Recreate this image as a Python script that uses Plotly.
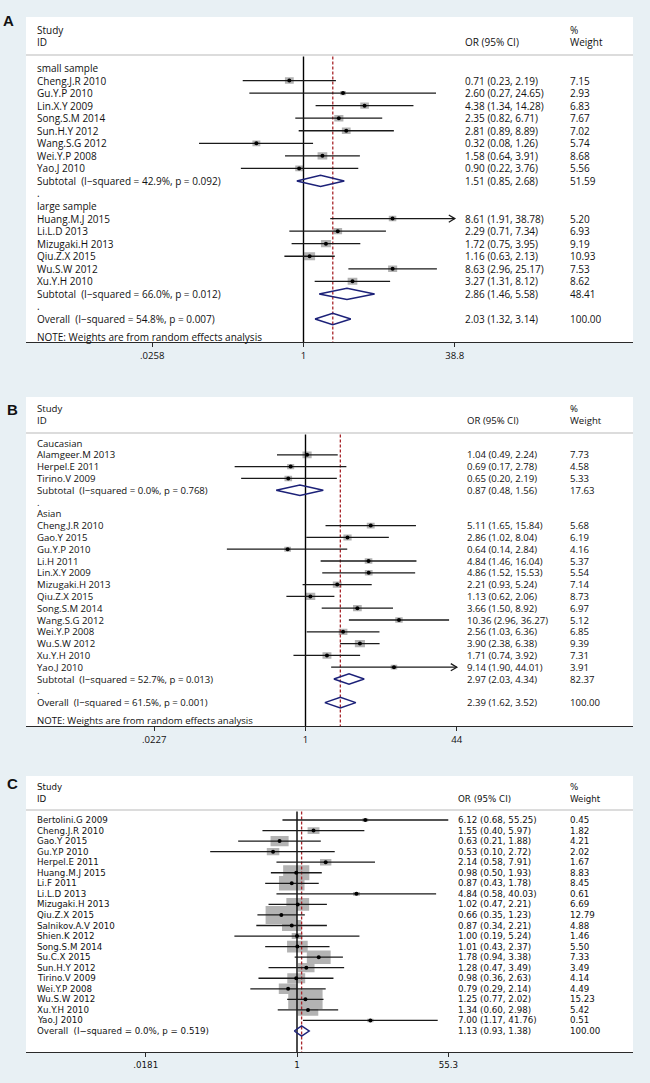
import numpy as np
import plotly.graph_objects as go

# ---------------- data: panel A ----------------
a_small_names = ["Cheng.J.R 2010", "Gu.Y.P 2010", "Lin.X.Y 2009", "Song.S.M 2014",
                 "Sun.H.Y 2012", "Wang.S.G 2012", "Wei.Y.P 2008", "Yao.J 2010"]
a_small_or = [0.71, 2.60, 4.38, 2.35, 2.81, 0.32, 1.58, 0.90]
a_small_lo = [0.23, 0.27, 1.34, 0.82, 0.89, 0.08, 0.64, 0.22]
a_small_hi = [2.19, 24.65, 14.28, 6.71, 8.89, 1.26, 3.91, 3.76]
a_small_w = [7.15, 2.93, 6.83, 7.67, 7.02, 5.74, 8.68, 5.56]

a_large_names = ["Huang.M.J 2015", "Li.L.D 2013", "Mizugaki.H 2013", "Qiu.Z.X 2015",
                 "Wu.S.W 2012", "Xu.Y.H 2010"]
a_large_or = [8.61, 2.29, 1.72, 1.16, 8.63, 3.27]
a_large_lo = [1.91, 0.71, 0.75, 0.63, 2.96, 1.31]
a_large_hi = [38.78, 7.34, 3.95, 2.13, 25.17, 8.12]
a_large_w = [5.20, 6.93, 9.19, 10.93, 7.53, 8.62]

a_groups = ["small sample", "large sample"]
a_sub_labels = ["Subtotal  (I\u2212squared = 42.9%, p = 0.092)",
                "Subtotal  (I\u2212squared = 66.0%, p = 0.012)"]
a_sub_or = [1.51, 2.86]
a_sub_lo = [0.85, 1.46]
a_sub_hi = [2.68, 5.58]
a_sub_w = [51.59, 48.41]
a_overall = ["Overall  (I\u2212squared = 54.8%, p = 0.007)", 2.03, 1.32, 3.14, 100.00]
a_ticks = [0.0258, 1, 38.8]
a_ticktext = [".0258", "1", "38.8"]
a_arrow = ["Huang.M.J 2015"]

# ---------------- data: panel B ----------------
b_cau_names = ["Alamgeer.M 2013", "Herpel.E 2011", "Tirino.V 2009"]
b_cau_or = [1.04, 0.69, 0.65]
b_cau_lo = [0.49, 0.17, 0.20]
b_cau_hi = [2.24, 2.78, 2.19]
b_cau_w = [7.73, 4.58, 5.33]

b_asi_names = ["Cheng.J.R 2010", "Gao.Y 2015", "Gu.Y.P 2010", "Li.H 2011", "Lin.X.Y 2009",
               "Mizugaki.H 2013", "Qiu.Z.X 2015", "Song.S.M 2014", "Wang.S.G 2012",
               "Wei.Y.P 2008", "Wu.S.W 2012", "Xu.Y.H 2010", "Yao.J 2010"]
b_asi_or = [5.11, 2.86, 0.64, 4.84, 4.86, 2.21, 1.13, 3.66, 10.36, 2.56, 3.90, 1.71, 9.14]
b_asi_lo = [1.65, 1.02, 0.14, 1.46, 1.52, 0.93, 0.62, 1.50, 2.96, 1.03, 2.38, 0.74, 1.90]
b_asi_hi = [15.84, 8.04, 2.84, 16.04, 15.53, 5.24, 2.06, 8.92, 36.27, 6.36, 6.38, 3.92, 44.01]
b_asi_w = [5.68, 6.19, 4.16, 5.37, 5.54, 7.14, 8.73, 6.97, 5.12, 6.85, 9.39, 7.31, 3.91]

b_groups = ["Caucasian", "Asian"]
b_sub_labels = ["Subtotal  (I\u2212squared = 0.0%, p = 0.768)",
                "Subtotal  (I\u2212squared = 52.7%, p = 0.013)"]
b_sub_or = [0.87, 2.97]
b_sub_lo = [0.48, 2.03]
b_sub_hi = [1.56, 4.34]
b_sub_w = [17.63, 82.37]
b_overall = ["Overall  (I\u2212squared = 61.5%, p = 0.001)", 2.39, 1.62, 3.52, 100.00]
b_ticks = [0.0227, 1, 44]
b_ticktext = [".0227", "1", "44"]
b_arrow = ["Yao.J 2010"]

# ---------------- data: panel C ----------------
c_names = ["Bertolini.G 2009", "Cheng.J.R 2010", "Gao.Y 2015", "Gu.Y.P 2010", "Herpel.E 2011",
           "Huang.M.J 2015", "Li.F 2011", "Li.L.D 2013", "Mizugaki.H 2013", "Qiu.Z.X 2015",
           "Salnikov.A.V 2010", "Shien.K 2012", "Song.S.M 2014", "Su.C.X 2015", "Sun.H.Y 2012",
           "Tirino.V 2009", "Wei.Y.P 2008", "Wu.S.W 2012", "Xu.Y.H 2010", "Yao.J 2010"]
c_or = [6.12, 1.55, 0.63, 0.53, 2.14, 0.98, 0.87, 4.84, 1.02, 0.66,
        0.87, 1.00, 1.01, 1.78, 1.28, 0.98, 0.79, 1.25, 1.34, 7.00]
c_lo = [0.68, 0.40, 0.21, 0.10, 0.58, 0.50, 0.43, 0.58, 0.47, 0.35,
        0.34, 0.19, 0.43, 0.94, 0.47, 0.36, 0.29, 0.77, 0.60, 1.17]
c_hi = [55.25, 5.97, 1.88, 2.72, 7.91, 1.93, 1.78, 40.03, 2.21, 1.23,
        2.21, 5.24, 2.37, 3.38, 3.49, 2.63, 2.14, 2.02, 2.98, 41.76]
c_w = [0.45, 1.82, 4.21, 2.02, 1.67, 8.83, 8.45, 0.61, 6.69, 12.79,
       4.88, 1.46, 5.50, 7.33, 3.49, 4.14, 4.49, 15.23, 5.42, 0.51]
c_overall = ["Overall  (I\u2212squared = 0.0%, p = 0.519)", 1.13, 0.93, 1.38, 100.00]
c_ticks = [0.0181, 1, 55.3]
c_ticktext = [".0181", "1", "55.3"]
c_arrow = []

note_text = "NOTE: Weights are from random effects analysis"


# ---------------- row builders ----------------
def study_rows(names, est, lo, hi, w):
    return [("study", n, e, l, h, ww) for n, e, l, h, ww in zip(names, est, lo, hi, w)]


rows_a = ([("group", a_groups[0], None, None, None, None)]
          + study_rows(a_small_names, a_small_or, a_small_lo, a_small_hi, a_small_w)
          + [("sub", a_sub_labels[0], a_sub_or[0], a_sub_lo[0], a_sub_hi[0], a_sub_w[0]),
             ("blank", ".", None, None, None, None),
             ("group", a_groups[1], None, None, None, None)]
          + study_rows(a_large_names, a_large_or, a_large_lo, a_large_hi, a_large_w)
          + [("sub", a_sub_labels[1], a_sub_or[1], a_sub_lo[1], a_sub_hi[1], a_sub_w[1]),
             ("blank", ".", None, None, None, None),
             ("sub",) + tuple(a_overall)])

rows_b = ([("group", b_groups[0], None, None, None, None)]
          + study_rows(b_cau_names, b_cau_or, b_cau_lo, b_cau_hi, b_cau_w)
          + [("sub", b_sub_labels[0], b_sub_or[0], b_sub_lo[0], b_sub_hi[0], b_sub_w[0]),
             ("blank", ".", None, None, None, None),
             ("group", b_groups[1], None, None, None, None)]
          + study_rows(b_asi_names, b_asi_or, b_asi_lo, b_asi_hi, b_asi_w)
          + [("sub", b_sub_labels[1], b_sub_or[1], b_sub_lo[1], b_sub_hi[1], b_sub_w[1]),
             ("blank", ".", None, None, None, None),
             ("sub",) + tuple(b_overall)])

rows_c = study_rows(c_names, c_or, c_lo, c_hi, c_w) + [("sub",) + tuple(c_overall)]

# ---------------- layout constants (pixels) ----------------
W, H = 650, 1083
BG = "#e8f0f4"
BOX_L, BOX_R = 26, 633
TEXT_X = 35
CI_COLOR = "#1a1a1a"
SQ_COLOR = "#b3b3b3"
DIA_COLOR = "#1c2178"
RED = "#a8262b"

panels = [
    dict(rows=rows_a, overall=a_overall, top=17, axis=342, y0=68, dy=12.55, cx=303.5,
         ticks=a_ticks, ticktext=a_ticktext, study_y=30, id_y=42.5, sep=55, note_y=337,
         orx=463, wx=568, font="Open Sans", fs=10, rw=3.3, rh=2.4, dh=5.6,
         arrows=a_arrow, letter="A", lx=8.5, ly=20),
    dict(rows=rows_b, overall=b_overall, top=397, axis=726, y0=443, dy=11.8, cx=305.5,
         ticks=b_ticks, ticktext=b_ticktext, study_y=408.5, id_y=420.5, sep=433, note_y=720,
         orx=465, wx=568, font="Open Sans", fs=9.6, rw=3.3, rh=2.4, dh=5.3,
         arrows=b_arrow, letter="B", lx=12, ly=410),
    dict(rows=rows_c, overall=c_overall, top=776, axis=1052, y0=820, dy=10.55, cx=297,
         ticks=c_ticks, ticktext=c_ticktext, study_y=787, id_y=798.5, sep=810, note_y=None,
         orx=456, wx=568, font="DejaVu Sans", fs=8.7, rw=8.8, rh=5.0, dh=5.0,
         arrows=c_arrow, letter="C", lx=12, ly=783),
]

fig = go.Figure()
annotations = []
shapes = []
layout_axes = {}

for k, p in enumerate(panels, start=1):
    xname = "x" if k == 1 else f"x{k}"
    yname = "y" if k == 1 else f"y{k}"
    xkey = "xaxis" if k == 1 else f"xaxis{k}"
    ykey = "yaxis" if k == 1 else f"yaxis{k}"

    thi = p["ticks"][-1]
    ppl = 151.3 / np.log10(thi)          # pixels per log10 unit
    xr = [(BOX_L - p["cx"]) / ppl, (BOX_R - p["cx"]) / ppl]
    y0, dy = p["y0"], p["dy"]

    def yval(px, y0=y0, dy=dy):
        return -(px - y0) / dy

    yr = [yval(p["axis"]), yval(p["top"])]

    layout_axes[xkey] = dict(
        type="log", range=xr, domain=[BOX_L / W, BOX_R / W], anchor=yname,
        showline=True, linecolor="#2a2a2a", linewidth=1.2, ticks="outside", ticklen=4,
        tickcolor="#2a2a2a", tickwidth=1.2, tickvals=p["ticks"], ticktext=p["ticktext"],
        tickfont=dict(family=p["font"], size=9.6 if k < 3 else 8.7, color="#111"),
        showgrid=False, zeroline=False, fixedrange=True)
    layout_axes[ykey] = dict(
        range=yr, domain=[1 - p["axis"] / H, 1 - p["top"] / H], anchor=xname,
        visible=False, showgrid=False, zeroline=False, fixedrange=True)

    # white panel box + header separator
    shapes.append(dict(type="rect", xref="paper", yref="paper", x0=BOX_L / W, x1=BOX_R / W,
                       y0=1 - p["axis"] / H, y1=1 - p["top"] / H, fillcolor="white",
                       line=dict(width=0), layer="below"))
    shapes.append(dict(type="line", xref="paper", yref="paper", x0=BOX_L / W, x1=BOX_R / W,
                       y0=1 - p["sep"] / H, y1=1 - p["sep"] / H,
                       line=dict(color="#dcdcdc", width=2), layer="below"))

    tfont = dict(family=p["font"], size=p["fs"], color="#111")

    def add_text(px, py_val, txt):
        annotations.append(dict(x=px / W, xref="paper", y=py_val, yref=yname, text=txt,
                                showarrow=False, xanchor="left", yanchor="middle",
                                font=tfont))

    # header
    add_text(TEXT_X, yval(p["study_y"]), "Study")
    add_text(TEXT_X, yval(p["id_y"]), "ID")
    add_text(p["orx"], yval(p["id_y"]), "OR (95% CI)")
    add_text(p["wx"], yval(p["study_y"]), "%")
    add_text(p["wx"], yval(p["id_y"]), "Weight")
    if p["note_y"] is not None:
        add_text(TEXT_X, yval(p["note_y"]), note_text)

    # panel letter
    annotations.append(dict(x=p["lx"] / W, xref="paper", y=1 - p["ly"] / H, yref="paper",
                            text=f"<b>{p['letter']}</b>", showarrow=False, xanchor="center",
                            yanchor="middle",
                            font=dict(family="Liberation Sans", size=15, color="#111")))

    sq_x, sq_y = [], []
    ci_x, ci_y = [], []
    ar_x, ar_y = [], []
    dot_x, dot_y = [], []
    dia_x, dia_y = [], []
    f_arrow = 10 ** (6 / ppl)
    d_arrow = 3.6 / dy

    for i, (kind, label, est, lo, hi, w) in enumerate(p["rows"]):
        yv = -i
        add_text(TEXT_X, yv, label.replace("  ", "\u00a0\u00a0"))
        if kind in ("study", "sub"):
            add_text(p["orx"], yv, f"{est:.2f} ({lo:.2f}, {hi:.2f})")
            add_text(p["wx"], yv, f"{w:.2f}")
        if kind == "study":
            fx = 10 ** (p["rw"] * np.sqrt(w) / 2 / ppl)
            hh = p["rh"] * np.sqrt(w) / 2 / dy
            sq_x += [est / fx, est * fx, est * fx, est / fx, est / fx, None]
            sq_y += [yv - hh, yv - hh, yv + hh, yv + hh, yv - hh, None]
            top = hi
            if label in p["arrows"]:
                top = thi
                ar_x += [thi / f_arrow, thi, thi / f_arrow, None]
                ar_y += [yv + d_arrow, yv, yv - d_arrow, None]
            ci_x += [lo, top, None]
            ci_y += [yv, yv, None]
            dot_x.append(est)
            dot_y.append(yv)
        elif kind == "sub":
            hh = p["dh"] / dy
            dia_x += [lo, est, hi, est, lo, None]
            dia_y += [yv, yv + hh, yv, yv - hh, yv, None]

    common = dict(xaxis=xname, yaxis=yname, hoverinfo="skip", showlegend=False)
    fig.add_trace(go.Scatter(x=sq_x, y=sq_y, mode="lines", fill="toself", fillcolor=SQ_COLOR,
                             line=dict(width=0, color=SQ_COLOR), **common))
    ytop = yval(p["sep"] + 1.5)
    ybot = yr[0]
    fig.add_trace(go.Scatter(x=[1, 1], y=[ytop, ybot], mode="lines",
                             line=dict(color="#000", width=1.4), **common))
    fig.add_trace(go.Scatter(x=[p["overall"][1]] * 2, y=[ytop, ybot], mode="lines",
                             line=dict(color=RED, width=1.3, dash="3px,2px"), **common))
    fig.add_trace(go.Scatter(x=ci_x, y=ci_y, mode="lines",
                             line=dict(color=CI_COLOR, width=1.3), **common))
    if ar_x:
        fig.add_trace(go.Scatter(x=ar_x, y=ar_y, mode="lines",
                                 line=dict(color=CI_COLOR, width=1.3), **common))
    fig.add_trace(go.Scatter(x=dot_x, y=dot_y, mode="markers",
                             marker=dict(color="#000", size=4, symbol="circle"), **common))
    fig.add_trace(go.Scatter(x=dia_x, y=dia_y, mode="lines",
                             line=dict(color=DIA_COLOR, width=1.5), **common))

fig.update_layout(
    width=W, height=H, margin=dict(l=0, r=0, t=0, b=0),
    paper_bgcolor=BG, plot_bgcolor="rgba(0,0,0,0)",
    showlegend=False, annotations=annotations, shapes=shapes, **layout_axes)

page_js = ("document.body.style.margin='0px';document.body.style.padding='0px';"
           "document.body.style.overflow='hidden';"
           f"document.body.style.background='{BG}';")
fig.write_html("out.html", post_script=page_js, config={"displayModeBar": False})
